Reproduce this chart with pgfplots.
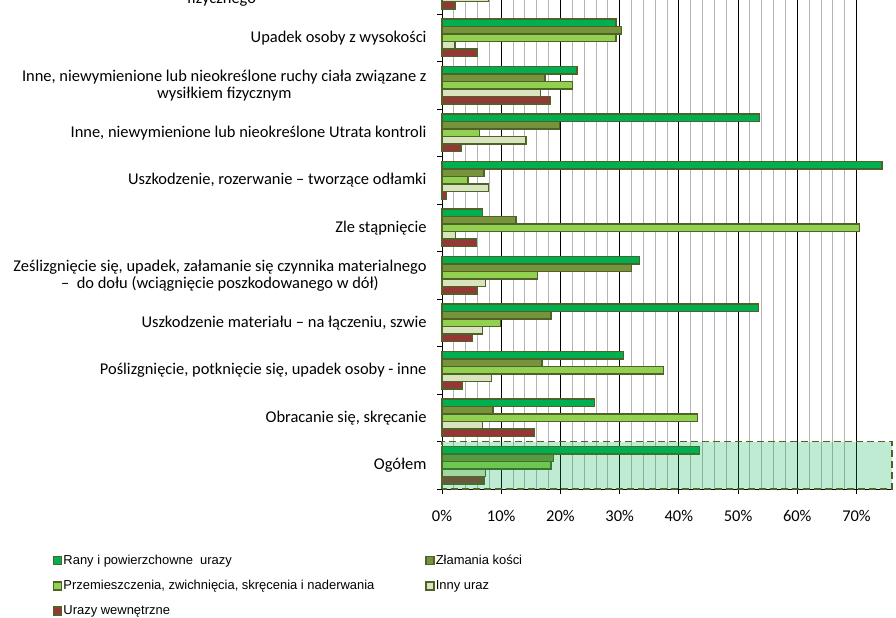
\documentclass[border=0pt]{standalone}
\usepackage{pgfplots}
\pgfplotsset{compat=1.18}
\usepackage{fontspec}
\setmainfont{Carlito}
\newfontfamily\legfont{Liberation Sans}
\definecolor{cRany}{HTML}{00B050}
\definecolor{cZlam}{HTML}{77933C}
\definecolor{cPrzem}{HTML}{92D050}
\definecolor{cInny}{HTML}{D7E4BD}
\definecolor{cWewn}{HTML}{953735}
\definecolor{cEdge}{HTML}{4F6228}
\definecolor{cGrid}{HTML}{B3B3B3}

\begin{document}
\begin{tikzpicture}
\begin{axis}[
    scale only axis,
    width=450bp, height=522.5bp,
    xbar, bar width=7.5bp,
    xmin=0, xmax=76,
    ymin=-0.5, ymax=10.5,
    clip=false,
    axis lines*=left,
    axis line style={black, line width=0.8bp},
    tick align=outside,
    xtick={0,10,...,70},
    minor x tick num=4,
    xmajorgrids, xminorgrids,
    major grid style={black, line width=0.8bp},
    minor grid style={cGrid, line width=0.8bp},
    major tick length=5bp, minor tick length=0pt,
    tick style={black, line width=0.8bp},
    /pgf/number format/assume math mode=true,
    xticklabel={\pgfmathprintnumber{\tick}\%},
    xticklabel style={font=\fontsize{16.5}{18}\selectfont, yshift=-13bp},
    ytick={-0.5,0.5,...,10.5},
    y tick label as interval,
    yticklabels={
        {Ogółem},
        {Obracanie się, skręcanie},
        {Poślizgnięcie, potknięcie się, upadek osoby - inne},
        {Uszkodzenie materiału – na łączeniu, szwie},
        {Ześlizgnięcie się, upadek, załamanie się czynnika materialnego\\–\ \ do dołu (wciągnięcie poszkodowanego w dół)},
        {Zle stąpnięcie},
        {Uszkodzenie, rozerwanie – tworzące odłamki},
        {Inne, niewymienione lub nieokreślone Utrata kontroli},
        {Inne, niewymienione lub nieokreślone ruchy ciała związane z\\wysiłkiem fizycznym},
        {Upadek osoby z wysokości},
        {Inne, niewymienione lub nieokreślone ruchy ciała bez wysiłku\\fizycznego},
        {}},
    yticklabel style={align=center, font=\fontsize{16.5}{17}\selectfont, xshift=-7bp},
    legend columns=2,
    legend cell align=left,
    legend image code/.code={\draw[#1, line width=1.3bp] (0bp,-4bp) rectangle (8bp,4bp);},
    legend style={draw=none, fill=none, font=\legfont\fontsize{13}{14}\selectfont,
        at={(0,0)}, anchor=north west, xshift=-389bp, yshift=-65bp,
        inner sep=0pt, row sep=12.3bp,
        /tikz/column 2/.style={column sep=50bp},
        nodes={inner sep=1bp}},
]
\addplot[fill=cRany, draw=cEdge, line width=1.2bp, bar shift=15bp] coordinates {
    (43.5,0) (25.8,1) (30.6,2) (53.4,3) (33.3,4) (6.9,5) (74.3,6) (53.6,7) (22.8,8) (29.4,9)};
\addlegendentry{Rany i powierzchowne\ \ urazy}
\addplot[fill=cZlam, draw=cEdge, line width=1.2bp, bar shift=7.5bp] coordinates {
    (18.8,0) (8.6,1) (16.9,2) (18.4,3) (32.0,4) (12.5,5) (7.1,6) (19.8,7) (17.4,8) (30.3,9)};
\addlegendentry{Złamania kości}
\addplot[fill=cPrzem, draw=cEdge, line width=1.2bp, bar shift=0bp] coordinates {
    (18.4,0) (43.1,1) (37.4,2) (9.9,3) (16.1,4) (70.5,5) (4.4,6) (6.3,7) (22.0,8) (29.4,9)};
\addlegendentry{Przemieszczenia,\ zwichnięcia,\ skręcenia\ i\ naderwania}
\addplot[fill=cInny, draw=cEdge, line width=1.2bp, bar shift=-7.5bp] coordinates {
    (7.4,0) (6.9,1) (8.4,2) (6.8,3) (7.3,4) (2.3,5) (7.9,6) (14.2,7) (16.7,8) (2.2,9) (7.9,10)};
\addlegendentry{Inny uraz}
\addplot[fill=cWewn, draw=cEdge, line width=1.2bp, bar shift=-15bp] coordinates {
    (7.1,0) (15.6,1) (3.4,2) (5.1,3) (5.9,4) (5.8,5) (0.8,6) (3.2,7) (18.3,8) (5.9,9) (2.2,10)};
\addlegendentry{Urazy wewnętrzne}
% wyróżnienie wiersza "Ogółem"
\fill[cRany, fill opacity=0.25] (axis cs:0,-0.5) rectangle (axis cs:76,0.5);
\draw[cEdge, line width=1.8bp, dash pattern=on 7bp off 4bp] (axis cs:0,-0.5) rectangle (axis cs:76,0.5);
\coordinate (O) at (rel axis cs:0,0);
\end{axis}
\pgfresetboundingbox
\path[use as bounding box] ([xshift=-442bp,yshift=-129bp]O) rectangle ([xshift=454bp,yshift=489bp]O);
\end{tikzpicture}
\end{document}
